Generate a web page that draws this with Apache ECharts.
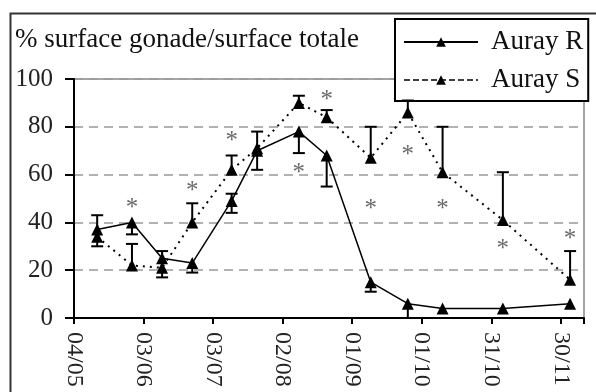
<!DOCTYPE html>
<html>
<head>
<meta charset="utf-8">
<script src="https://cdn.jsdelivr.net/npm/echarts@6/dist/echarts.min.js"></script>
<style>
  html,body{margin:0;padding:0;background:#fff;}
  #chart{width:596px;height:392px;}
</style>
</head>
<body>
<div id="chart"></div>
<script>
// jours depuis le 04/05
var tickLabels = ['04/05','03/06','03/07','02/08','01/09','01/10','31/10','30/11'];
var days = [10, 25, 38, 51, 68, 79, 97, 109, 128, 144, 159, 185, 214];
var aurayR = [37, 40, 25, 23, 49, 70, 78, 68, 15, 6, 4, 4, 6];
var aurayRUp = [6, 0, 3, 0, 3, 8, 0, 0, 0, 0, 0, 0, 0];
var aurayRDown = [0, 5, 0, 4, 5, 8, 9, 13, 4, 6, 0, 0, 0];
var aurayS = [34, 22, 21, 40, 62, 71, 90, 84, 67, 86, 61, 41, 16];
var auraySUp = [0, 9, 0, 8, 6, 0, 3, 3, 13, 5, 19, 20, 12];
var auraySDown = [4, 0, 4, 0, 0, 0, 0, 0, 0, 0, 0, 0, 0];
// etoiles (differences significatives)
var starDays = [25, 51, 68, 97, 109, 128, 144, 159, 185, 214];
var starVals = [48, 55, 76, 62.6, 93, 47.7, 70, 47.7, 30.8, 35];

var myChart = echarts.init(document.getElementById('chart'));
var serif = '"Liberation Serif", "Times New Roman", serif';

function pairs(xs, ys){
	var out = [];
	for (var i = 0; i < xs.length; i++) { out.push([xs[i], ys[i]]); }
	return out;
}
function errData(vals, up, down){
	var out = [];
	for (var i = 0; i < days.length; i++) {
		if (up[i] > 0 || down[i] > 0) out.push([days[i], vals[i], up[i], down[i]]);
	}
	return out;
}
function renderErr(params, api){
	var x = api.value(0), y = api.value(1), up = api.value(2), down = api.value(3);
	var top = api.coord([x, y + up]), bot = api.coord([x, y - down]);
	var st = {stroke: '#000', lineWidth: 2};
	var kids = [{type: 'line', shape: {x1: top[0], y1: top[1], x2: bot[0], y2: bot[1]}, style: st}];
	if (up > 0) kids.push({type: 'line', shape: {x1: top[0]-6, y1: top[1], x2: top[0]+6, y2: top[1]}, style: st});
	if (down > 0) kids.push({type: 'line', shape: {x1: bot[0]-6, y1: bot[1], x2: bot[0]+6, y2: bot[1]}, style: st});
	return {type: 'group', children: kids};
}

var option = {
	animation: false,
	backgroundColor: '#fff',
	title: {
		text: '% surface gonade/surface totale',
		left: 10, top: 21,
		textStyle: {fontFamily: serif, fontSize: 27, fontWeight: 'normal', color: '#111'}
	},
	legend: {
		orient: 'vertical',
		left: 395, top: 19,
		width: 192,
		padding: [8, 5, 6, 8],
		itemGap: 8,
		itemWidth: 74, itemHeight: 12,
		backgroundColor: '#fff',
		borderColor: '#000', borderWidth: 2,
		textStyle: {fontFamily: serif, fontSize: 27, color: '#111', lineHeight: 30, padding: [0, 0, 0, 8]},
		data: ['Auray R', {name: 'Auray S', lineStyle: {type: 'dashed', width: 1.5}}]
	},
	graphic: [{
		type: 'rect', left: 8, top: 11, z: -1,
		shape: {width: 600, height: 400},
		style: {fill: 'none', stroke: '#333', lineWidth: 2}
	}],
	grid: {left: 74, right: 12, top: 79, bottom: 74, show: true, borderColor: '#888', borderWidth: 1.5},
	xAxis: {
		type: 'value', min: 0, max: 220, interval: 30,
		axisLine: {lineStyle: {color: '#000', width: 2}},
		axisTick: {length: 6, lineStyle: {color: '#000', width: 2}},
		splitLine: {show: false},
		axisLabel: {
			rotate: -90, margin: 14,
			fontFamily: serif, fontSize: 24, color: '#222',
			formatter: function(v){ return v % 30 === 0 ? (tickLabels[v / 30] || '') : ''; }
		}
	},
	yAxis: {
		type: 'value', min: 0, max: 100, interval: 20,
		axisLine: {show: true, lineStyle: {color: '#000', width: 2}},
		axisTick: {show: true, length: 9, lineStyle: {color: '#000', width: 2}},
		splitLine: {lineStyle: {color: '#999', width: 1.5, type: [9, 6]}},
		axisLabel: {margin: 21, fontFamily: serif, fontSize: 25, color: '#222'}
	},
	series: [
		{
			name: 'Auray R', type: 'line', data: pairs(days, aurayR),
			symbol: 'triangle', symbolSize: 12,
			itemStyle: {color: '#000'},
			lineStyle: {color: '#000', width: 1.5}, z: 3
		},
		{
			name: 'Auray S', type: 'line', data: pairs(days, aurayS),
			symbol: 'triangle', symbolSize: 12,
			itemStyle: {color: '#000'},
			lineStyle: {color: '#000', width: 2, type: [2, 5]}, z: 3
		},
		{type: 'custom', renderItem: renderErr, data: errData(aurayR, aurayRUp, aurayRDown), z: 4},
		{type: 'custom', renderItem: renderErr, data: errData(aurayS, auraySUp, auraySDown), z: 4},
		{
			type: 'scatter', data: pairs(starDays, starVals),
			symbolSize: 1, itemStyle: {color: 'rgba(0,0,0,0)'},
			label: {show: true, position: 'inside', formatter: '*', fontFamily: serif, fontSize: 25, color: '#444', offset: [0, 5]}
		}
	]
};
myChart.setOption(option);
window.onresize = myChart.resize;
</script>
</body>
</html>
